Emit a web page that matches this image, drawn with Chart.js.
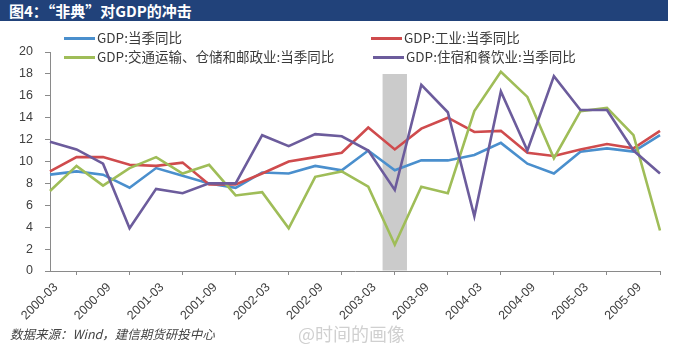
<!DOCTYPE html>
<html>
<head>
<meta charset="utf-8">
<script src="https://cdn.jsdelivr.net/npm/chart.js@4.4.1/dist/chart.umd.min.js"></script>
<style>
    body { margin: 0; background: #fff; font-family: "Noto Sans CJK SC", "Noto Sans", sans-serif; }
    #wrap { position: relative; width: 690px; height: 345px; overflow: hidden; }
    #titleBar {
        position: absolute; left: 0; top: 0; width: 668px; height: 21px;
        background: #21427a; color: #fff; font-weight: bold; font-size: 15px;
        line-height: 21px; padding-left: 9px; box-sizing: border-box;
    }
    #chartBox { position: absolute; left: 0; top: 0; width: 690px; height: 345px; }
    .legendItem { position: absolute; font-size: 13.5px; color: #3a3a3a; line-height: 16px; white-space: nowrap; }
    .legendItem span.swatch { display: inline-block; width: 31px; height: 3px; vertical-align: middle; margin-right: 2px; position: relative; top: -1px; }
    #source {
        position: absolute; left: 10px; top: 324px; font-size: 12.5px; font-style: italic;
        color: #444; white-space: nowrap;
    }
    #watermark {
        position: absolute; left: 298px; top: 320px; font-size: 18px; color: #d0d0d0; white-space: nowrap;
    }
</style>
</head>
<body>
<div id="wrap">
    <div id="chartBox"><canvas id="gdpChart" width="690" height="345"></canvas></div>
    <div id="titleBar">图4：“非典”对GDP的冲击</div>
    <div id="legend"></div>
    <div id="source">数据来源：Wind，建信期货研投中心</div>
    <div id="watermark">@时间的画像</div>
</div>
<script>
const quarters = [
    "2000-03", "2000-06", "2000-09", "2000-12",
    "2001-03", "2001-06", "2001-09", "2001-12",
    "2002-03", "2002-06", "2002-09", "2002-12",
    "2003-03", "2003-06", "2003-09", "2003-12",
    "2004-03", "2004-06", "2004-09", "2004-12",
    "2005-03", "2005-06", "2005-09", "2005-12"
];

// GDP:当季同比
const gdpTotal = [8.8, 9.1, 8.8, 7.6, 9.4, 8.7, 8.0, 7.6, 9.0, 8.9, 9.6, 9.2,
    11.0, 9.2, 10.1, 10.1, 10.6, 11.7, 9.8, 8.9, 10.9, 11.2, 10.9, 12.4];
// GDP:工业:当季同比
const gdpIndustry = [9.1, 10.4, 10.4, 9.7, 9.6, 9.9, 7.9, 7.9, 8.9, 10.0, 10.4, 10.8,
    13.1, 11.1, 13.0, 14.0, 12.7, 12.8, 10.8, 10.5, 11.1, 11.6, 11.2, 12.8];
// GDP:交通运输、仓储和邮政业:当季同比
const gdpTransport = [7.3, 9.6, 7.8, 9.4, 10.4, 8.9, 9.7, 6.9, 7.2, 3.9, 8.6, 9.1,
    7.7, 2.4, 7.7, 7.1, 14.6, 18.2, 15.9, 10.3, 14.6, 14.9, 12.4, 3.7];
// GDP:住宿和餐饮业:当季同比
const gdpHotel = [11.8, 11.1, 9.8, 3.9, 7.5, 7.1, 8.0, 8.0, 12.4, 11.4, 12.5, 12.3,
    11.0, 7.4, 17.0, 14.5, 5.0, 16.4, 11.0, 17.8, 14.7, 14.7, 11.0, 8.9];
// 非典时期阴影
const sarsBand = quarters.map(q => (q === "2003-06" ? 18 : null));

const seriesNames = [
    "GDP:当季同比",
    "GDP:工业:当季同比",
    "GDP:交通运输、仓储和邮政业:当季同比",
    "GDP:住宿和餐饮业:当季同比"
];
const seriesColors = ["#4a8fcd", "#cf4b4d", "#9fbd58", "#6c5c9c"];

function lineSet(i, values) {
    return {
        type: "line",
        label: seriesNames[i],
        data: values,
        borderColor: seriesColors[i],
        backgroundColor: seriesColors[i],
        borderWidth: 2.6,
        pointRadius: 0,
        tension: 0,
        order: 4 - i
    };
}

function renderLegend() {
    const pos = [
        { left: 64, top: 29 },
        { left: 371, top: 29 },
        { left: 64, top: 48 },
        { left: 373, top: 48 }
    ];
    const box = document.getElementById("legend");
    seriesNames.forEach((name, i) => {
        const item = document.createElement("div");
        item.className = "legendItem";
        item.style.left = pos[i].left + "px";
        item.style.top = pos[i].top + "px";
        item.innerHTML = `<span class="swatch" style="background:${seriesColors[i]}"></span>${name}`;
        box.appendChild(item);
    });
}

function renderChart() {
    const ctx = document.getElementById("gdpChart");
    new Chart(ctx, {
        data: {
            labels: quarters,
            datasets: [
                lineSet(0, gdpTotal),
                lineSet(1, gdpIndustry),
                lineSet(2, gdpTransport),
                lineSet(3, gdpHotel),
                {
                    type: "bar",
                    label: "非典",
                    data: sarsBand,
                    backgroundColor: "#cbcbcb",
                    barPercentage: 0.92,
                    categoryPercentage: 1,
                    order: 10
                }
            ]
        },
        options: {
            responsive: false,
            animation: false,
            layout: { padding: { left: 8, right: 30, top: 52, bottom: 0 } },
            plugins: {
                legend: { display: false },
                tooltip: { enabled: false }
            },
            scales: {
                x: {
                    offset: false,
                    afterFit: s => { s.height = 74; },
                    grid: { drawOnChartArea: false, drawTicks: true, tickLength: 4, color: "#8a8a8a" },
                    border: { display: true, color: "#8a8a8a", width: 1 },
                    ticks: {
                        autoSkip: false,
                        maxRotation: 45,
                        minRotation: 45,
                        labelOffset: 6,
                        padding: 5,
                        color: "#404040",
                        font: { family: "Liberation Sans", size: 12.5 },
                        callback: function (value, index) {
                            return index % 2 === 0 ? this.getLabelForValue(value) : null;
                        }
                    }
                },
                y: {
                    min: 0,
                    max: 20,
                    afterFit: s => { s.width = 42; },
                    grid: { drawOnChartArea: false, drawTicks: true, tickLength: 5, color: "#8a8a8a" },
                    border: { display: true, color: "#8a8a8a", width: 1 },
                    ticks: {
                        stepSize: 2,
                        padding: 12,
                        color: "#404040",
                        font: { family: "Liberation Sans", size: 12.5 }
                    }
                }
            }
        }
    });
}

renderLegend();
renderChart();
</script>
</body>
</html>
